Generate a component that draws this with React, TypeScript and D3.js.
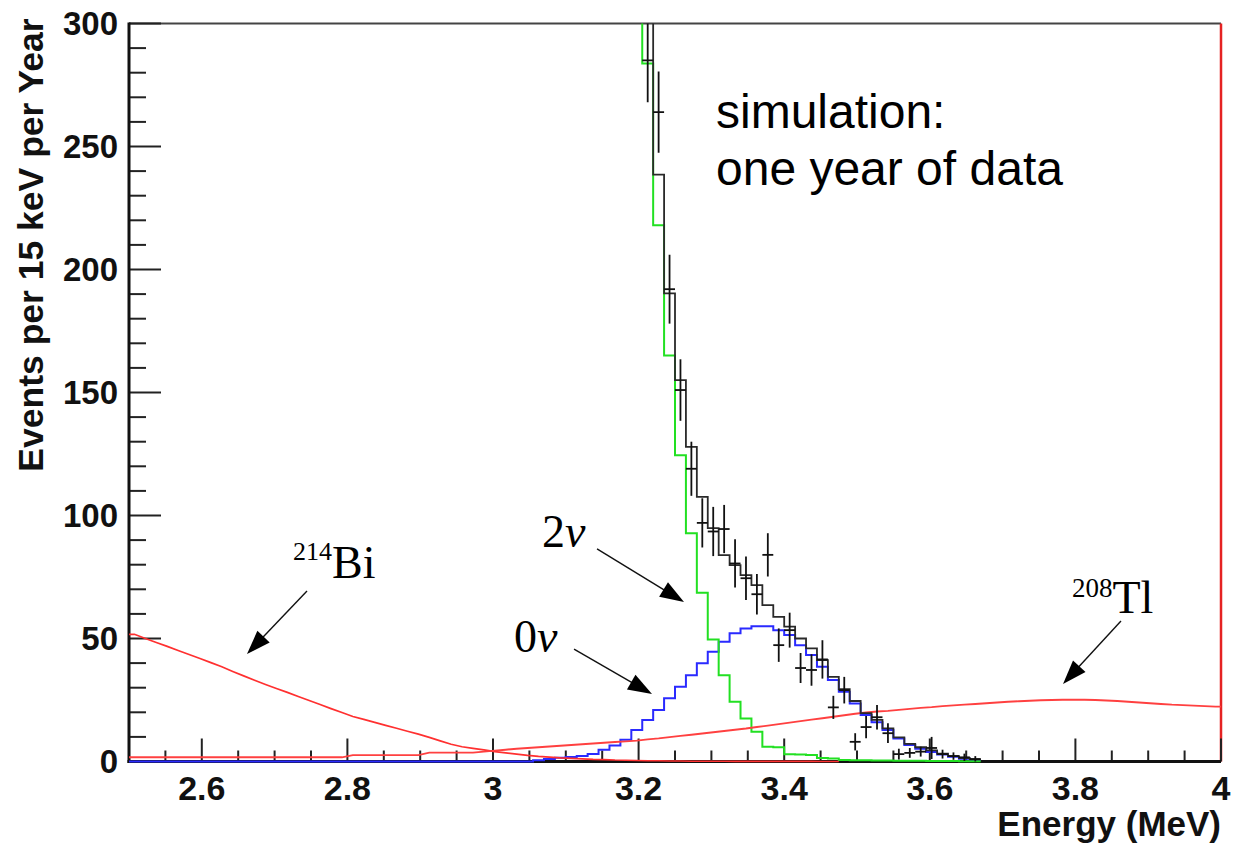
import React from "react";
import * as d3 from "d3";

// ---------- data ----------
const energyDomain = [2.5, 4.0];
const countDomain = [0, 300];
const binWidth = 0.015; // 15 keV bins, first edge at 2.5 MeV

// 214Bi background (bins 0..64)
const bi214Start = 0;
const bi214 = [
  51.7, 50.0, 48.4, 46.8, 45.1, 43.5, 41.9, 40.2, 38.5, 36.6,
  34.8, 33.0, 31.3, 29.7, 28.1, 26.4, 24.8, 23.2, 21.5, 19.9,
  18.3, 17.1, 15.9, 14.7, 13.5, 12.3, 11.1, 9.8, 8.4, 7.0,
  6.0, 5.3, 4.7, 4.0, 3.5, 3.0, 2.5, 2.1, 1.8, 1.5,
  1.3, 1.1, 0.9, 0.8, 0.6, 0.5, 0.4, 0.3, 0.3, 0.2,
  0.2, 0.1, 0.1, 0.1, 0.1, 0.05, 0.05, 0.05, 0.05, 0.05,
  0.05, 0.05, 0.05, 0, 0,
];

// 208Tl background (bins 0..99)
const tl208Start = 0;
const tl208 = [
  1.7, 1.7, 1.7, 1.7, 1.7, 1.7, 1.7, 1.7, 1.7, 1.7,
  1.7, 1.7, 1.7, 1.7, 1.7, 1.7, 1.7, 1.7, 1.7, 1.7,
  2.6, 2.6, 2.6, 2.6, 2.6, 2.6, 2.6, 3.6, 3.6, 3.6,
  3.6, 3.6, 4.0, 4.4, 4.8, 5.2, 5.5, 5.8, 6.1, 6.4,
  6.7, 7.0, 7.3, 7.6, 7.9, 8.2, 8.5, 9.0, 9.4, 9.9,
  10.4, 10.9, 11.4, 11.9, 12.4, 12.9, 13.4, 14.0, 14.6, 15.2,
  15.8, 16.4, 17.0, 17.6, 18.2, 18.8, 19.4, 19.9, 20.3, 20.6,
  21.0, 21.4, 21.8, 22.1, 22.5, 22.8, 23.1, 23.4, 23.7, 24.0,
  24.3, 24.5, 24.7, 24.9, 25.0, 25.1, 25.1, 25.1, 25.0, 24.8,
  24.6, 24.3, 24.0, 23.7, 23.4, 23.1, 22.9, 22.7, 22.5, 22.3,
];

// 0nu signal (bins 0..77)
const zeroNuStart = 0;
const zeroNu = [
  0, 0, 0, 0, 0, 0, 0, 0, 0, 0,
  0, 0, 0, 0, 0, 0, 0, 0, 0, 0,
  0, 0, 0, 0, 0, 0, 0, 0, 0, 0,
  0, 0, 0, 0, 0, 0, 0, 0.5, 1.0, 1.5,
  1.8, 2.2, 3.0, 4.8, 6.5, 8.8, 12.8, 16.9, 20.9, 25.7,
  30.4, 35.1, 39.9, 44.6, 48.7, 52.1, 54.1, 55.0, 55.0, 53.4,
  51.4, 47.3, 43.3, 38.5, 33.1, 28.4, 23.6, 18.9, 16.0, 12.8,
  9.3, 6.7, 5.2, 3.9, 2.8, 1.9, 1.1, 0.6,
];

// 2nu spectrum (bins 46..77), first bin is off scale
const twoNuStart = 46;
const twoNu = [
  380, 283.7, 218, 165, 124.5, 92.8, 68.6, 49.6, 35.1, 24.3,
  17.5, 12.1, 6.0, 5.8, 2.9, 2.8, 2.6, 1.4, 1.2, 0.6,
  0.5, 0.5, 0.4, 0.4, 0.3, 0.3, 0.3, 0.2, 0.2, 0.2,
  0.1, 0.1,
];

// total simulated spectrum (bins 46..77)
const totalStart = 46;
const total = [
  400, 300.6, 238.6, 190.3, 155.0, 127.9, 107.6, 94.9, 83.9, 79.8,
  75.8, 71.7, 63.6, 58.8, 54.8, 50.0, 46.0, 41.2, 34.4, 29.4,
  24.6, 19.7, 16.9, 13.5, 9.8, 7.2, 5.8, 4.5, 3.2, 2.2,
  1.4, 0.9,
];

// pseudo-data points
const dataBins = [
  47, 48, 49, 50, 51, 52, 53, 54, 55, 56,
  57, 58, 59, 60, 61, 62, 63, 64, 65, 66,
  67, 68, 69, 70, 71, 72, 73, 74, 75, 76, 77,
];
const dataValues = [
  285, 264, 192, 151, 119, 97, 93.5, 94.5, 80.5, 74.5,
  68, 84, 47.3, 53.4, 38, 37.2, 41.5, 22, 29, 8,
  14, 18, 11.5, 3, 3.5, 4, 5.5, 3, 2.2, 1.7, 1,
];
const dataErrors = [
  17, 16.5, 14, 12.5, 11, 10, 10, 9.8, 9.8, 8.8,
  8.2, 8.8, 6.8, 7.1, 6.1, 6.4, 7.8, 4.7, 5.4, 3.5,
  4.5, 5, 4, 2.2, 2, 2, 4.5, 1.8, 1.5, 1.5, 1.2,
];

const xTickLabels = [2.6, 2.8, 3.0, 3.2, 3.4, 3.6, 3.8, 4.0];
const yTickLabels = [0, 50, 100, 150, 200, 250, 300];

// ---------- layout ----------
const W = 1238;
const H = 843;
const plot = { left: 129, right: 1221, top: 23.5, bottom: 761.5 };

const SANS = "'Liberation Sans', Arial, Helvetica, sans-serif";
const SERIF = "'Liberation Serif', 'Times New Roman', serif";

const x = d3.scaleLinear().domain(energyDomain).range([plot.left, plot.right]);
const y = d3.scaleLinear().domain(countDomain).range([plot.bottom, plot.top]);

const edge = (k: number) => energyDomain[0] + k * binWidth;
const center = (k: number) => energyDomain[0] + (k + 0.5) * binWidth;

function histPath(values: number[], start: number): string {
  const pts: [number, number][] = values.map((v, i) => [x(edge(start + i)), y(v)]);
  pts.push([x(edge(start + values.length)), y(values[values.length - 1])]);
  return d3.line().curve(d3.curveStepAfter)(pts) || "";
}

// smooth-looking background curve through bin centres
function curvePath(values: number[], start: number): string {
  const pts: [number, number][] = values.map((v, i) => [x(center(start + i)), y(v)]);
  pts.unshift([x(edge(start)), y(values[0])]);
  pts.push([x(edge(start + values.length)), y(values[values.length - 1])]);
  return d3.line()(pts) || "";
}

function Arrow({ from, to }: { from: [number, number]; to: [number, number] }) {
  const x1 = x(from[0]), y1 = y(from[1]), x2 = x(to[0]), y2 = y(to[1]);
  const dx = x2 - x1, dy = y2 - y1;
  const len = Math.hypot(dx, dy);
  const ux = dx / len, uy = dy / len;
  const hl = 24, hw = 8.5;
  const bx = x2 - ux * hl, by = y2 - uy * hl;
  const pts = [
    [x2, y2],
    [bx - uy * hw, by + ux * hw],
    [bx + uy * hw, by - ux * hw],
  ].map((p) => p.join(",")).join(" ");
  return (
    <g>
      <line x1={x1} y1={y1} x2={bx + ux * 2} y2={by + uy * 2} stroke="#111" strokeWidth={1.4} />
      <polygon points={pts} fill="#000" />
    </g>
  );
}

export default function App() {
  const yMinor = d3.range(0, 301, 10);
  const xMinor = d3.range(0, 31).map((i) => +(2.5 + i * 0.05).toFixed(3));
  const isMajorX = (v: number) => xTickLabels.some((t) => Math.abs(t - v) < 1e-6);

  return (
    <svg
      width={W}
      height={H}
      viewBox={`0 0 ${W} ${H}`}
      style={{ position: "absolute", left: 0, top: 0, display: "block", background: "#fff" }}
    >
      <defs>
        <clipPath id="plotClip">
          <rect x={plot.left} y={plot.top} width={plot.right - plot.left} height={plot.bottom - plot.top + 3} />
        </clipPath>
      </defs>
      <rect x={0} y={0} width={W} height={H} fill="#fff" />

      {/* frame: top & right */}
      <line x1={plot.left} x2={plot.right} y1={plot.top} y2={plot.top} stroke="#444" strokeWidth={2} />
      <line x1={plot.right} x2={plot.right} y1={plot.top} y2={plot.bottom} stroke="#e52222" strokeWidth={2.5} />

      {/* y ticks */}
      {yMinor.map((v) => (
        <line
          key={"yt" + v}
          x1={plot.left}
          x2={plot.left + (v % 50 === 0 ? 32 : 17)}
          y1={y(v)}
          y2={y(v)}
          stroke="#222"
          strokeWidth={2}
        />
      ))}
      {/* x ticks */}
      {xMinor.map((v) => (
        <line
          key={"xt" + v}
          x1={x(v)}
          x2={x(v)}
          y1={plot.bottom}
          y2={plot.bottom - (isMajorX(v) ? 23 : 11)}
          stroke="#222"
          strokeWidth={2}
        />
      ))}

      {/* axes */}
      <line x1={plot.left} x2={plot.left} y1={plot.top - 1} y2={plot.bottom + 1.5} stroke="#111" strokeWidth={3} />
      <line x1={plot.left - 1.5} x2={plot.right} y1={plot.bottom} y2={plot.bottom} stroke="#111" strokeWidth={3} />

      {/* tick labels */}
      {yTickLabels.map((v) => (
        <text
          key={"yl" + v}
          x={118}
          y={y(v)}
          dy="0.36em"
          textAnchor="end"
          fontFamily={SANS}
          fontWeight="bold"
          fontSize={33}
          fill="#111"
        >
          {v}
        </text>
      ))}
      {xTickLabels.map((v) => (
        <text
          key={"xl" + v}
          x={x(v)}
          y={800}
          textAnchor="middle"
          fontFamily={SANS}
          fontWeight="bold"
          fontSize={34}
          fill="#111"
        >
          {String(+v.toFixed(1))}
        </text>
      ))}

      {/* axis titles */}
      <text
        x={plot.right}
        y={836}
        textAnchor="end"
        fontFamily={SANS}
        fontWeight="bold"
        fontSize={35}
        fill="#111"
      >
        Energy (MeV)
      </text>
      <text
        transform={`translate(43,245) rotate(-90)`}
        textAnchor="middle"
        fontFamily={SANS}
        fontWeight="bold"
        fontSize={35.5}
        fill="#111"
      >
        Events per 15 keV per Year
      </text>

      {/* histograms */}
      <g clipPath="url(#plotClip)" fill="none" strokeLinejoin="miter">
        <path d={histPath(zeroNu, zeroNuStart)} stroke="#2a2aff" strokeWidth={2} />
        <path d={histPath(twoNu, twoNuStart)} stroke="#22e022" strokeWidth={2} />
        <path d={curvePath(bi214, bi214Start)} stroke="#ff3030" strokeWidth={1.7} />
        <path d={curvePath(tl208, tl208Start)} stroke="#ff4040" strokeWidth={1.9} />
        <path d={histPath(total, totalStart)} stroke="#2a2a2a" strokeWidth={1.8} />
        {dataBins.map((b, i) => {
          const cx = x(center(b));
          const cy = y(dataValues[i]);
          return (
            <g key={"d" + b} stroke="#111" strokeWidth={1.8}>
              <line x1={x(edge(b))} x2={x(edge(b + 1))} y1={cy} y2={cy} />
              <line x1={cx} x2={cx} y1={y(dataValues[i] + dataErrors[i])} y2={y(Math.max(0, dataValues[i] - dataErrors[i]))} />
            </g>
          );
        })}
      </g>

      {/* annotations */}
      <text x={x(3.3063)} y={y(257.4)} fontFamily={SANS} fontSize={48} fill="#000">
        simulation:
      </text>
      <text x={x(3.3063)} y={y(234.3)} fontFamily={SANS} fontSize={48} fill="#000">
        one year of data
      </text>

      <text x={x(2.7253)} y={y(74.6)} fontFamily={SERIF} fill="#000">
        <tspan fontSize={26} dy={-18}>214</tspan>
        <tspan fontSize={46} dy={18}>Bi</tspan>
      </text>
      <Arrow from={[2.7445, 69.3]} to={[2.6621, 43.7]} />

      <text x={x(3.0673)} y={y(87.2)} fontFamily={SERIF} fontSize={46} fill="#000">
        2<tspan fontStyle="italic">ν</tspan>
      </text>
      <Arrow from={[3.1429, 86.4]} to={[3.2624, 64.8]} />

      <text x={x(3.0288)} y={y(44.5)} fontFamily={SERIF} fontSize={46} fill="#000">
        0<tspan fontStyle="italic">ν</tspan>
      </text>
      <Arrow from={[3.1113, 45.7]} to={[3.2184, 27.4]} />

      <text x={x(3.7953)} y={y(60.4)} fontFamily={SERIF} fill="#000">
        <tspan fontSize={27} dy={-16}>208</tspan>
        <tspan fontSize={46} dy={16}>Tl</tspan>
      </text>
      <Arrow from={[3.8626, 57.1]} to={[3.783, 31.5]} />
    </svg>
  );
}
